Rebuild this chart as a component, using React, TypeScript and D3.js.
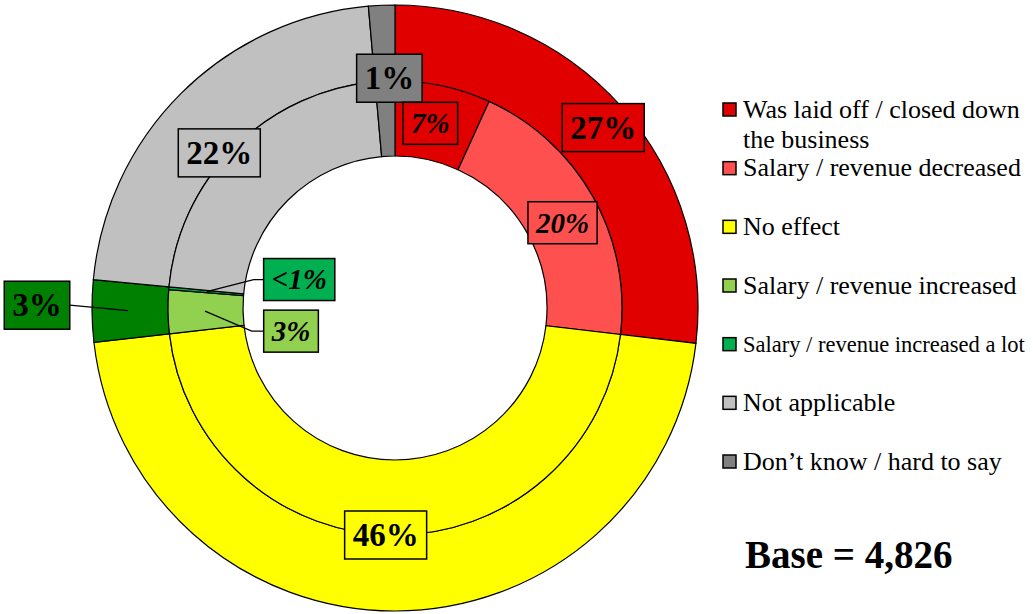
import React, { useEffect, useRef } from 'react';
import * as d3 from 'd3';

// inner ring: full breakdown
const innerCategories = [
  "Was laid off / closed down the business",
  "Salary / revenue decreased",
  "No effect",
  "Salary / revenue increased",
  "Salary / revenue increased a lot",
  "Not applicable",
  "Don’t know / hard to say",
];
const innerValues = [6.8, 20.05, 46.3, 3.1, 0.2, 22.1, 1.4];
const innerLabels = ["7%", "20%", "", "3%", "<1%", "", ""];
const innerColors = ["#E00000", "#FF5050", "#FFFF00", "#92D050", "#00B050", "#C0C0C0", "#808080"];

// outer ring: grouped
const outerCategories = ["Negative", "No effect", "Positive", "Not applicable", "Don’t know"];
const outerValues = [26.85, 46.3, 3.3, 22.1, 1.4];
const outerLabels = ["27%", "46%", "3%", "22%", "1%"];
const outerColors = ["#E00000", "#FFFF00", "#008000", "#C0C0C0", "#808080"];

const legendLines = [
  ["Was laid off / closed down", "the business"],
  ["Salary / revenue decreased"],
  ["No effect"],
  ["Salary / revenue increased"],
  ["Salary / revenue increased a lot"],
  ["Not applicable"],
  ["Don’t know / hard to say"],
];

const baseText = "Base = 4,826";

const FONT = '"Liberation Serif", "Times New Roman", serif';

// label placement: radius for the anchor, nudge, optional leader box offset
type LabelPos = { r: number; dx: number; dy: number; leader?: { bx: number; by: number; elbow: number } };
const outerLabelPos: LabelPos[] = [
  { r: 276, dx: 2, dy: 3 },
  { r: 227, dx: -9, dy: 0 },
  { r: 267, dx: 0, dy: 0, leader: { bx: -91, by: -5.5, elbow: 0 } },
  { r: 235, dx: -10, dy: 11.5 },
  { r: 230, dx: 4.5, dy: 0 },
];
const innerLabelPos: LabelPos[] = [
  { r: 190, dx: -5, dy: 1 },
  { r: 190, dx: 2, dy: 8 },
  { r: 0, dx: 0, dy: 0 },
  { r: 190, dx: 0, dy: 0, leader: { bx: 86, by: 20, elbow: 12 } },
  { r: 189, dx: 0, dy: 0, leader: { bx: 92.5, by: -12, elbow: 10 } },
  { r: 0, dx: 0, dy: 0 },
  { r: 0, dx: 0, dy: 0 },
];

const App: React.FC = () => {
  const svgRef = useRef<SVGSVGElement>(null);

  useEffect(() => {
    if (!svgRef.current) return;
    const svg = d3.select(svgRef.current);
    svg.selectAll("*").remove();

    const cx = 395, cy = 308;
    const rHole = 152, rMid = 227, rOuter = 303;

    const pie = d3.pie<number>().sort(null).value(d => d);
    const innerArcs = pie(innerValues);
    const outerArcs = pie(outerValues);

    const g = svg.append("g").attr("transform", `translate(${cx},${cy})`);

    const arcInner = d3.arc<d3.PieArcDatum<number>>().innerRadius(rHole).outerRadius(rMid);
    const arcOuter = d3.arc<d3.PieArcDatum<number>>().innerRadius(rMid).outerRadius(rOuter);

    g.selectAll(".outer")
      .data(outerArcs)
      .enter()
      .append("path")
      .attr("class", "outer")
      .attr("d", arcOuter)
      .attr("fill", (d, i) => outerColors[i])
      .attr("stroke", "#000")
      .attr("stroke-width", 1.2);

    g.selectAll(".inner")
      .data(innerArcs)
      .enter()
      .append("path")
      .attr("class", "inner")
      .attr("d", arcInner)
      .attr("fill", (d, i) => innerColors[i])
      .attr("stroke", "#000")
      .attr("stroke-width", 1.2);

    const polar = (a: number, r: number) => [r * Math.sin(a), -r * Math.cos(a)];

    const drawLabel = (
      arcD: d3.PieArcDatum<number>,
      text: string,
      pos: LabelPos,
      color: string,
      italic: boolean
    ) => {
      if (!text) return;
      const mid = (arcD.startAngle + arcD.endAngle) / 2;
      const [ax, ay] = polar(mid, pos.r);
      let x = ax + pos.dx, y = ay + pos.dy;
      if (pos.leader) {
        x = ax + pos.leader.bx;
        y = ay + pos.leader.by;
      }
      const fs = italic ? 29 : 33;
      const h = italic ? 42 : 48;
      const lg = g.append("g");
      const t = lg.append("text")
        .attr("x", x)
        .attr("y", y)
        .attr("dy", "0.34em")
        .attr("text-anchor", "middle")
        .style("font-family", FONT)
        .style("font-size", `${fs}px`)
        .style("font-weight", "bold")
        .style("font-style", italic ? "italic" : "normal")
        .style("fill", "#000")
        .text(text);
      const w = (t.node() as SVGTextElement).getComputedTextLength() + 16;
      if (pos.leader) {
        const edge = pos.leader.bx > 0 ? x - w / 2 : x + w / 2;
        const elbowX = pos.leader.bx > 0 ? edge - pos.leader.elbow : edge + pos.leader.elbow;
        lg.insert("polyline", "text")
          .attr("points", `${ax},${ay} ${elbowX},${y} ${edge},${y}`)
          .attr("fill", "none")
          .attr("stroke", "#000")
          .attr("stroke-width", 1.3);
      }
      lg.insert("rect", "text")
        .attr("x", x - w / 2)
        .attr("y", y - h / 2)
        .attr("width", w)
        .attr("height", h)
        .attr("fill", color)
        .attr("stroke", "#000")
        .attr("stroke-width", 1.5);
    };

    outerArcs.forEach((d, i) => drawLabel(d, outerLabels[i], outerLabelPos[i], outerColors[i], false));
    innerArcs.forEach((d, i) => drawLabel(d, innerLabels[i], innerLabelPos[i], innerColors[i], true));

    // Legend
    const legendY = d3.scalePoint<string>()
      .domain(innerCategories)
      .range([109.5, 461.5]);

    const legend = svg.append("g");
    innerCategories.forEach((cat, i) => {
      const yy = legendY(cat) as number;
      legend.append("rect")
        .attr("x", 723)
        .attr("y", yy - 6.5)
        .attr("width", 13)
        .attr("height", 13)
        .attr("fill", innerColors[i])
        .attr("stroke", "#000")
        .attr("stroke-width", 1.5);
      legendLines[i].forEach((line, j) => {
        legend.append("text")
          .attr("x", 743)
          .attr("y", yy + 8 + j * 30)
          .style("font-family", FONT)
          .style("font-size", i === 4 ? "22.5px" : "26px")
          .style("fill", "#000")
          .text(line);
      });
    });

    svg.append("text")
      .attr("x", 745)
      .attr("y", 568)
      .style("font-family", FONT)
      .style("font-size", "39px")
      .style("font-weight", "bold")
      .style("fill", "#000")
      .text(baseText);
  }, []);

  return (
    <svg
      ref={svgRef}
      width={1033}
      height={614}
      style={{ position: 'absolute', left: 0, top: 0, background: '#fff' }}
    />
  );
};

export default App;
